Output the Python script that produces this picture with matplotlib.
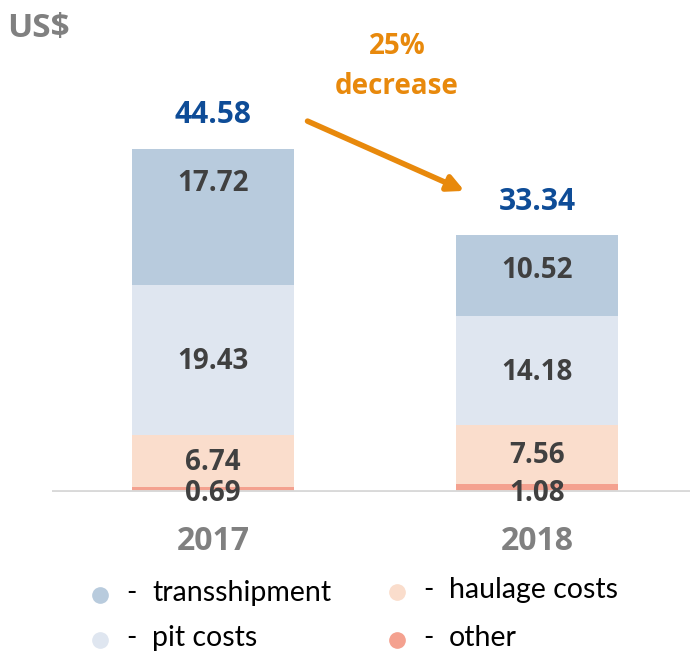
import matplotlib.pyplot as plt
from matplotlib.lines import Line2D

# data
years = ['2017', '2018']
other = [0.69, 1.08]
haulage = [6.74, 7.56]
pit = [19.43, 14.18]
transship = [17.72, 10.52]
totals = [44.58, 33.34]
legend_names = ['transshipment', 'pit costs', 'haulage costs', 'other']

c_trans = '#B8CBDD'
c_pit = '#DFE6F0'
c_haul = '#FADDCC'
c_other = '#F4A18F'
c_val = '#404040'
c_total = '#0E4C97'
c_gray = '#808080'
c_orange = '#E8890C'

bold_font = ['Open Sans', 'DejaVu Sans']
plt.rcParams['font.family'] = ['Lato', 'DejaVu Sans']

fig = plt.figure(figsize=(6.9, 6.58), dpi=100)
# axes: x from 52px to 690px, baseline at 492px, top at 20px
ax = fig.add_axes([52 / 690, 166 / 658, 638 / 690, 472 / 658])
ax.set_xlim(-0.497, 1.472)
ax.set_ylim(0, 472 / 7.7)

x = [0, 1]
w = 0.5
b1 = other
b2 = [a + b for a, b in zip(b1, haulage)]
b3 = [a + b for a, b in zip(b2, pit)]
ax.bar(x, other, w, color=c_other, zorder=2)
ax.bar(x, haulage, w, bottom=b1, color=c_haul, zorder=2)
ax.bar(x, pit, w, bottom=b2, color=c_pit, zorder=2)
ax.bar(x, transship, w, bottom=b3, color=c_trans, zorder=2)

fs = 20
lbl = dict(ha='center', va='center', fontsize=fs, fontweight='bold', color=c_val,
           zorder=4, family=bold_font)
for i in x:
    top = b3[i] + transship[i]
    ax.annotate(f'{transship[i]:.2f}', (i, top), xytext=(0, -25), textcoords='offset points', **lbl)
    ax.annotate(f'{pit[i]:.2f}', (i, b2[i] + pit[i] / 2), xytext=(0, -1),
                textcoords='offset points', **lbl)
    ax.annotate(f'{haulage[i]:.2f}', (i, b1[i] + haulage[i] / 2), xytext=(0, -1),
                textcoords='offset points', **lbl)
    ax.annotate(f'{other[i]:.2f}', (i, 0), xytext=(0, -1), textcoords='offset points', **lbl)
    ax.annotate(f'{totals[i]:.2f}', (i, totals[i]), xytext=(0, 24), textcoords='offset points',
                ha='center', va='center', fontsize=21.5, fontweight='bold', color=c_total,
                family=bold_font, zorder=4)
    ax.annotate(years[i], (i, 0), xytext=(0, -36), textcoords='offset points',
                ha='center', va='center', fontsize=23, fontweight='bold', color=c_gray,
                family=bold_font)

ax.axhline(0, color='#D9D9D9', lw=3.5, zorder=3)
for s in ax.spines.values():
    s.set_visible(False)
ax.set_xticks([])
ax.set_yticks([])

# arrow and decrease note
fig.text(7 / 690, 1 - 28 / 658, 'US$', fontsize=24, fontweight='bold', color=c_gray,
         ha='left', va='center', family=bold_font)
fig.text(397 / 690, 1 - 47 / 658, '25%', fontsize=20, fontweight='bold',
         color=c_orange, ha='center', va='center', family=bold_font)
fig.text(397 / 690, 1 - 86 / 658, 'decrease', fontsize=20, fontweight='bold',
         color=c_orange, ha='center', va='center', family=bold_font)
ax.annotate('', xy=(467 / 690, 1 - 192 / 658), xytext=(305 / 690, 1 - 120 / 658),
            xycoords='figure fraction', textcoords='figure fraction',
            arrowprops=dict(arrowstyle='-|>', color=c_orange, lw=4, mutation_scale=24))

# legend
leg_cols = [c_trans, c_pit, c_haul, c_other]
leg_pos = [(100, 595), (100, 640), (397, 592), (397, 640)]
for name, col, (px, py) in zip(legend_names, leg_cols, leg_pos):
    fig.add_artist(Line2D([px / 690], [1 - py / 658], marker='o', markersize=11,
                          color=col, lw=0, transform=fig.transFigure))
    fig.text((px + 31) / 690, 1 - (py - 2) / 658, '-', fontsize=20,
             ha='center', va='center', color='black')
    fig.text((px + 52) / 690, 1 - (py - 2) / 658, name, fontsize=20.5,
             ha='left', va='center', color='black')

fig.savefig('out.png', dpi=100)
